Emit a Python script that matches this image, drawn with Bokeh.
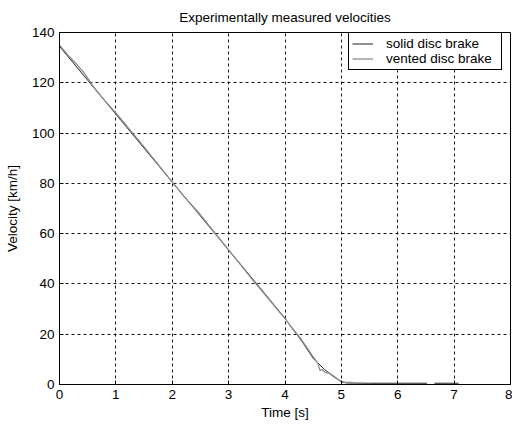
import numpy as np
from bokeh.plotting import figure
from bokeh.models import Legend, LegendItem, FixedTicker, Range1d
from bokeh.embed import file_html
from bokeh.resources import INLINE

# Data
solid_t = [0.0, 0.5, 1.0, 1.5, 2.0, 2.5, 3.0, 3.5, 3.8, 4.0, 4.15, 4.3, 4.5, 4.7, 4.85, 5.0, 5.1, 5.5, 6.0, 6.52, np.nan, 6.65, 7.08]
solid_v = [134.5, 121.0, 107.5, 94.0, 80.5, 67.0, 53.5, 40.0, 31.8, 26.3, 21.6, 17.2, 10.4, 6.0, 3.3, 1.2, 0.6, 0.5, 0.5, 0.5, np.nan, 0.5, 0.5]

vented_t = [0.0, 0.15, 0.3, 0.45, 0.6, 0.8, 1.0, 1.5, 2.0, 2.2, 2.5, 3.0, 3.5, 3.8, 4.0, 4.15, 4.3, 4.5, 4.58, 4.62, 4.66, 4.72, 4.8, 4.9, 5.0, 5.05, 5.2]
vented_v = [135.0, 131.0, 127.5, 123.5, 118.5, 113.0, 108.0, 94.5, 80.5, 75.0, 67.5, 53.5, 39.6, 31.6, 26.2, 21.8, 17.6, 11.0, 8.6, 5.6, 5.9, 4.7, 4.4, 2.8, 1.0, 0.8, 0.8]

x_ticks = [0, 1, 2, 3, 4, 5, 6, 7, 8]
y_ticks = [0, 20, 40, 60, 80, 100, 120, 140]

FONT = "Liberation Sans"
FS = "13.5px"

p = figure(width=512, height=425, output_backend="svg", toolbar_location=None,
           x_range=Range1d(0, 8), y_range=Range1d(0, 140),
           title="Experimentally measured velocities",
           min_border_left=59, min_border_right=2, min_border_top=11, min_border_bottom=41)

p.title.align = "center"
p.title.text_font = FONT
p.title.text_font_size = FS
p.title.text_font_style = "normal"
p.title.text_color = "black"
p.title.offset = 0
p.title.standoff = 15

p.outline_line_color = "black"
p.outline_line_width = 1
p.outline_line_alpha = 1.0
p.background_fill_color = "white"
p.border_fill_color = "white"

for ax in (p.xaxis[0], p.yaxis[0]):
    ax.major_label_text_font = FONT
    ax.major_label_text_font_size = FS
    ax.major_label_text_color = "black"
    ax.axis_label_text_font = FONT
    ax.axis_label_text_font_size = FS
    ax.axis_label_text_font_style = "normal"
    ax.axis_label_text_color = "black"
    ax.axis_line_color = "black"
    ax.major_tick_line_color = "black"
    ax.major_tick_in = 4
    ax.major_tick_out = 0
    ax.minor_tick_line_color = None

p.xaxis.ticker = FixedTicker(ticks=x_ticks)
p.yaxis.ticker = FixedTicker(ticks=y_ticks)
p.xaxis.axis_label = "Time [s]"
p.yaxis.axis_label = "Velocity [km/h]"
p.xaxis.major_label_standoff = 5
p.yaxis.major_label_standoff = 5
p.xaxis.axis_label_standoff = 3
p.yaxis.axis_label_standoff = 9

for g in (p.xgrid[0], p.ygrid[0]):
    g.grid_line_color = "black"
    g.grid_line_dash = "3 3"
    g.grid_line_width = 1
    g.grid_line_alpha = 0.9

r_solid = p.line(solid_t, solid_v, line_color="#222222", line_width=1)
r_vented = p.line(vented_t, vented_v, line_color="#8c8c8c", line_width=1.3)

legend = Legend(items=[LegendItem(label="solid disc brake", renderers=[r_solid]),
                       LegendItem(label="vented disc brake", renderers=[r_vented])],
                location=(289, 314))
legend.label_text_font = FONT
legend.label_text_font_size = FS
legend.label_text_color = "black"
legend.border_line_color = "black"
legend.border_line_width = 1
legend.border_line_alpha = 1.0
legend.background_fill_color = "white"
legend.background_fill_alpha = 1.0
legend.padding = 3
legend.spacing = 0
legend.margin = 0
legend.label_height = 15
legend.glyph_height = 15
legend.glyph_width = 21
legend.label_standoff = 13
legend.label_width = 112
p.add_layout(legend)

open("out.html", "w").write(file_html(p, INLINE))
